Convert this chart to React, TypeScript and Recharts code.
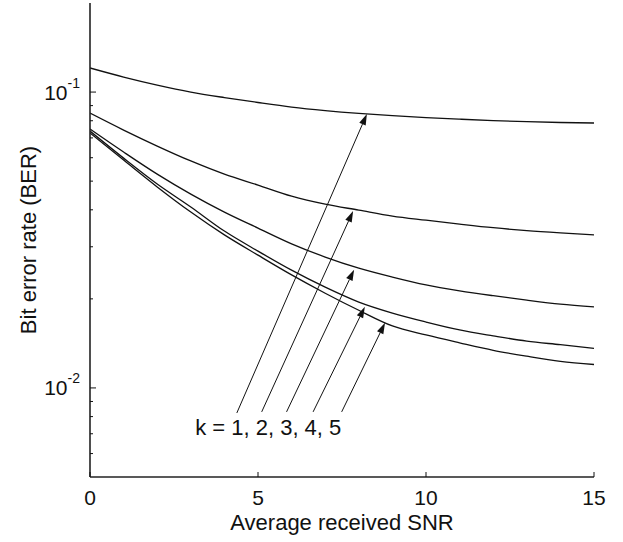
import React from 'react';
import { LineChart, Line, XAxis, YAxis, ReferenceLine, ReferenceDot } from 'recharts';

const FONT = '"Liberation Sans", Arial, Helvetica, sans-serif';
const INK = '#111';

const SNR = [0, 1, 2, 3, 4, 5, 6, 7, 8, 9, 10, 11, 12, 13, 14, 15];
const BER_K1 = [0.1206, 0.1124, 0.1056, 0.1, 0.0958, 0.0922, 0.089, 0.0866, 0.0847, 0.0832, 0.082, 0.081, 0.0801, 0.0794, 0.0789, 0.0786];
const BER_K2 = [0.0849, 0.0744, 0.0657, 0.0585, 0.0528, 0.0485, 0.0445, 0.0418, 0.0399, 0.0381, 0.0369, 0.0358, 0.0348, 0.034, 0.0334, 0.0329];
const BER_K3 = [0.075, 0.0627, 0.0528, 0.0452, 0.0393, 0.0347, 0.0307, 0.0277, 0.0254, 0.0237, 0.0223, 0.0213, 0.0205, 0.0198, 0.0192, 0.0188];
const BER_K4 = [0.0738, 0.0598, 0.0489, 0.0409, 0.0339, 0.029, 0.025, 0.0219, 0.0195, 0.0179, 0.0167, 0.0157, 0.015, 0.0144, 0.014, 0.0136];
const BER_K5 = [0.0727, 0.0589, 0.0478, 0.0393, 0.0329, 0.0281, 0.0241, 0.0209, 0.0183, 0.0162, 0.0151, 0.0142, 0.0134, 0.0128, 0.0123, 0.012];

const X_TICKS = [0, 5, 10, 15];
const Y_TICKS = [0.006, 0.007, 0.008, 0.009, 0.01, 0.02, 0.03, 0.04, 0.05, 0.06, 0.07, 0.08, 0.09, 0.1];

// arrows: tail (just above the "k = ..." text) -> head (on the curve)
const ARROW_TAIL_X = [4.37, 5.11, 5.85, 6.64, 7.49];
const ARROW_TAIL_Y = [0.00823, 0.0083, 0.0083, 0.0083, 0.0083];
const ARROW_HEAD_X = [8.24, 7.83, 7.86, 8.18, 8.78];
const ARROW_HEAD_Y = [0.0843, 0.0396, 0.0251, 0.0188, 0.0166];

const K_LABEL = 'k = 1, 2, 3, 4, 5';
const K_LABEL_X = 3.13;
const K_LABEL_Y = 0.00693;

const data = SNR.map((x, i) => ({
  x,
  k1: BER_K1[i],
  k2: BER_K2[i],
  k3: BER_K3[i],
  k4: BER_K4[i],
  k5: BER_K5[i],
}));

const isDecade = (v: number) => Math.abs(Math.log10(v) - Math.round(Math.log10(v))) < 1e-6;

function LeftTick(props: any) {
  const { x, y, payload } = props;
  const v = payload.value;
  const major = isDecade(v);
  return (
    <g>
      <line x1={x} x2={x + (major ? 6 : 3)} y1={y} y2={y} stroke={INK} strokeWidth={1} />
      {major && (
        <text x={x - 10} y={y + 7.5} textAnchor="end" fontFamily={FONT} fontSize={21} fill={INK}>
          <tspan>10</tspan>
          <tspan dy={-12} fontSize={14}>{String(Math.round(Math.log10(v)))}</tspan>
        </text>
      )}
    </g>
  );
}

function RightTick(props: any) {
  const { x, y, payload } = props;
  const major = isDecade(payload.value);
  return <line x1={x} x2={x - (major ? 6 : 3)} y1={y} y2={y} stroke={INK} strokeWidth={1} />;
}

function BottomTick(props: any) {
  const { x, y, payload } = props;
  return (
    <g>
      <line x1={x} x2={x} y1={y} y2={y - 5} stroke={INK} strokeWidth={1} />
      <text x={x} y={y + 28} textAnchor="middle" fontFamily={FONT} fontSize={21} fill={INK}>
        {payload.value}
      </text>
    </g>
  );
}

function TopTick(props: any) {
  const { x, y } = props;
  return <line x1={x} x2={x} y1={y} y2={y + 5} stroke={INK} strokeWidth={1} />;
}

function Arrow(props: any) {
  const { x1, y1, x2, y2 } = props;
  const dx = x2 - x1;
  const dy = y2 - y1;
  const len = Math.sqrt(dx * dx + dy * dy) || 1;
  const ux = dx / len;
  const uy = dy / len;
  const hl = 11;
  const hw = 3.5;
  const bx = x2 - ux * hl;
  const by = y2 - uy * hl;
  return (
    <g>
      <line x1={x1} y1={y1} x2={bx} y2={by} stroke={INK} strokeWidth={1} />
      <polygon
        points={`${x2},${y2} ${bx - uy * hw},${by + ux * hw} ${bx + uy * hw},${by - ux * hw}`}
        fill={INK}
      />
    </g>
  );
}

function KLabel(props: any) {
  const { cx, cy } = props;
  return (
    <text x={cx} y={cy} fontFamily={FONT} fontSize={22} fill={INK}>
      {K_LABEL}
    </text>
  );
}

export default function App() {
  const series = ['k1', 'k2', 'k3', 'k4', 'k5'];
  return (
    <div style={{ position: 'absolute', left: 0, top: 0, background: '#fff' }}>
      <LineChart width={623} height={542} data={data} margin={{ top: 3, right: 29, bottom: 0, left: 0 }}>
        <XAxis
          dataKey="x"
          type="number"
          domain={[0, 15]}
          ticks={X_TICKS}
          interval={0}
          allowDataOverflow
          height={65}
          tickSize={0}
          tickMargin={0}
          tickLine={false}
          axisLine={{ stroke: '#222', strokeWidth: 1.6 }}
          tick={<BottomTick />}
          label={{ value: 'Average received SNR', position: 'insideBottom', offset: 12, fontSize: 22, fontFamily: FONT, fill: INK }}
        />
        <XAxis
          xAxisId="top"
          orientation="top"
          dataKey="x"
          type="number"
          domain={[0, 15]}
          ticks={X_TICKS}
          interval={0}
          allowDataOverflow
          height={0}
          tickSize={0}
          tickMargin={0}
          tickLine={false}
          axisLine={{ stroke: '#222', strokeWidth: 1.6 }}
          tick={<TopTick />}
        />
        <YAxis
          scale="log"
          type="number"
          domain={[0.005, 0.2]}
          ticks={Y_TICKS}
          interval={0}
          allowDataOverflow
          width={90}
          tickSize={0}
          tickMargin={0}
          tickLine={false}
          axisLine={{ stroke: '#222', strokeWidth: 1.6 }}
          tick={<LeftTick />}
          label={{
            value: 'Bit error rate (BER)',
            angle: -90,
            position: 'insideLeft',
            offset: 28,
            fontSize: 22,
            fontFamily: FONT,
            fill: INK,
            style: { textAnchor: 'middle' },
          }}
        />
        <YAxis
          yAxisId="right"
          orientation="right"
          scale="log"
          type="number"
          domain={[0.005, 0.2]}
          ticks={Y_TICKS}
          interval={0}
          allowDataOverflow
          width={0}
          tickSize={0}
          tickMargin={0}
          tickLine={false}
          axisLine={{ stroke: '#222', strokeWidth: 1.6 }}
          tick={<RightTick />}
        />
        {series.map((key) => (
          <Line
            key={key}
            dataKey={key}
            type="monotone"
            stroke={INK}
            strokeWidth={1.3}
            dot={false}
            isAnimationActive={false}
          />
        ))}
        {ARROW_TAIL_X.map((tx, i) => (
          <ReferenceLine
            key={'a' + i}
            segment={[
              { x: tx, y: ARROW_TAIL_Y[i] },
              { x: ARROW_HEAD_X[i], y: ARROW_HEAD_Y[i] },
            ]}
            shape={<Arrow />}
          />
        ))}
        <ReferenceDot x={K_LABEL_X} y={K_LABEL_Y} r={0} shape={<KLabel />} />
      </LineChart>
    </div>
  );
}
